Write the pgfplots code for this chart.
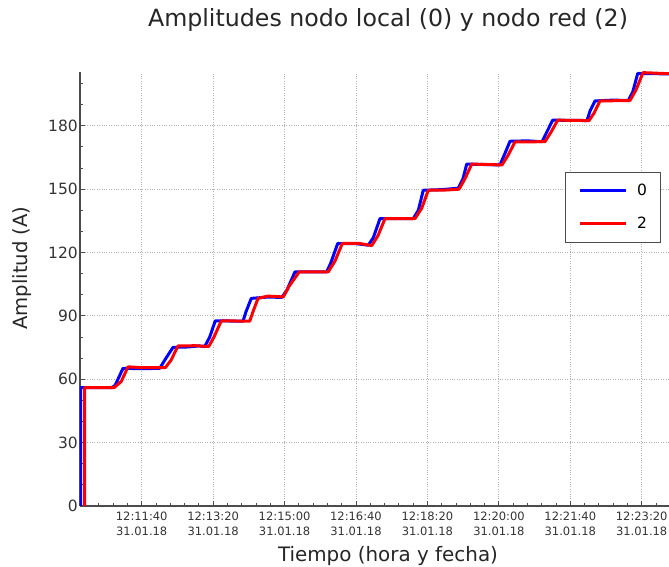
\documentclass[border=0pt]{standalone}
\usepackage{fontspec}
\setmainfont{DejaVu Sans}
\usepackage{pgfplots}
\usepackage{pgfplotstable}
\pgfplotsset{compat=1.18}

% time in seconds after 12:10:00 (31.01.18), amplitude in A
\pgfplotstableread{
t a
14.6 0
14.6 56
57.4 56
62.6 57
73.8 65.2
100 65.0
125.2 65.2
134.0 70
143.8 75.1
165 75.3
180 75.8
188.2 75.5
195.2 80
203.0 87.7
241.8 87.5
246.0 92
253.4 98.3
275 98.9
296.0 98.8
303.0 102
314.6 110.9
359.0 110.9
364.6 115
374.4 124.3
400 124.2
417.2 123.5
424.2 127
433.6 136.1
480.2 136.1
487.2 140
494.2 149.5
520 149.8
543.2 150.5
549.8 155
555.0 161.9
601.6 161.5
608.6 167
615.6 172.7
640 172.9
660.4 172.5
667.0 177
675.4 182.7
700 182.6
723.4 182.5
727.6 187
734.6 191.8
760 192.2
781.2 192
787.4 196
794.4 204.8
840 204.6
876 204.5
}\nodoA

\pgfplotstableread{
t a
20.2 0
20.2 56
61.2 56
71.4 59
80.8 65.9
100 65.5
133.0 65.5
141.0 69
150.8 75.8
175 75.9
193.8 75.5
201.2 80
211.4 87.7
251.2 87.5
255.8 92
262.8 98.3
276.8 99.4
298.2 99
306.2 104
320.6 110.9
361.2 110.9
370.6 116
380.8 124.3
405 124.3
422.0 123.3
430.8 128
440.6 136.1
482.6 136.1
492.0 141
501.2 149.5
525 149.6
544.2 150
552.6 155
562.0 161.9
604.4 161.5
612.8 166
622.6 172.4
664.6 172.5
673.0 177
682.4 182.7
726.2 182.5
733.2 186
741.6 191.8
783.6 192
792.0 197
801.8 205.2
830 204.8
876 204.5
}\nodoB

\begin{document}
\begin{tikzpicture}
\begin{axis}[
  at={(0,0)}, anchor=south west,
  scale only axis, width=616pt, height=434pt,
  xmin=13.6, xmax=876, ymin=0, ymax=205.5,
  axis lines*=left,
  axis line style={line width=1.6pt, color=black!70},
  xtick={100,200,...,800},
  xticklabels={{12:11:40\\31.01.18},{12:13:20\\31.01.18},{12:15:00\\31.01.18},{12:16:40\\31.01.18},{12:18:20\\31.01.18},{12:20:00\\31.01.18},{12:21:40\\31.01.18},{12:23:20\\31.01.18}},
  ytick={0,30,...,180},
  minor xtick={20,40,...,860},
  minor ytick={10,20,...,200},
  tick align=inside,
  major tick length=5pt, minor tick length=3pt,
  every tick/.style={line width=1pt, color=black!70},
  grid=major,
  major grid style={dotted, color=gray!60, line width=0.9pt},
  /pgf/number format/assume math mode=true,
  yticklabel style={font=\fontsize{15.5}{18}\selectfont, text=black!80, inner xsep=2pt},
  xticklabel style={font=\fontsize{11.5}{15}\selectfont, text=black!80, align=center, yshift=-2.5pt},
  title={Amplitudes nodo local (0) y nodo red (2)},
  title style={at={(axis description cs:0.5,1)}, anchor=base, yshift=39pt, font=\fontsize{23.7}{28}\selectfont, text=black!85},
  xlabel={Tiempo (hora y fecha)},
  xlabel style={at={(axis description cs:0.5,0)}, anchor=base, yshift=-55.5pt, font=\fontsize{19.9}{24}\selectfont, text=black!85},
  ylabel={Amplitud (A)},
  ylabel style={at={(axis description cs:-0.0933,0.548)}, anchor=center, font=\fontsize{19.6}{24}\selectfont, text=black!85},
  legend style={at={(axis description cs:0.9432,0.7696)}, anchor=north east,
    draw=black!70, line width=1pt, fill=white,
    font=\fontsize{15.5}{18}\selectfont,
    inner xsep=12.5pt, inner ysep=11pt,
    nodes={inner sep=1pt},
    row sep=18pt,
    /tikz/every odd column/.append style={column sep=9pt}},
  legend image code/.code={\draw[#1] (0pt,0pt) -- (46pt,0pt);},
]
\addplot[color=blue, line width=3pt, line join=round] table[x=t, y=a] {\nodoA};
\addlegendentry{0}
\addplot[color=red, line width=3pt, line join=round] table[x=t, y=a] {\nodoB};
\addlegendentry{2}
\end{axis}
\pgfresetboundingbox
\useasboundingbox (-80pt,-61pt) rectangle (589pt,506pt);
\end{tikzpicture}
\end{document}
